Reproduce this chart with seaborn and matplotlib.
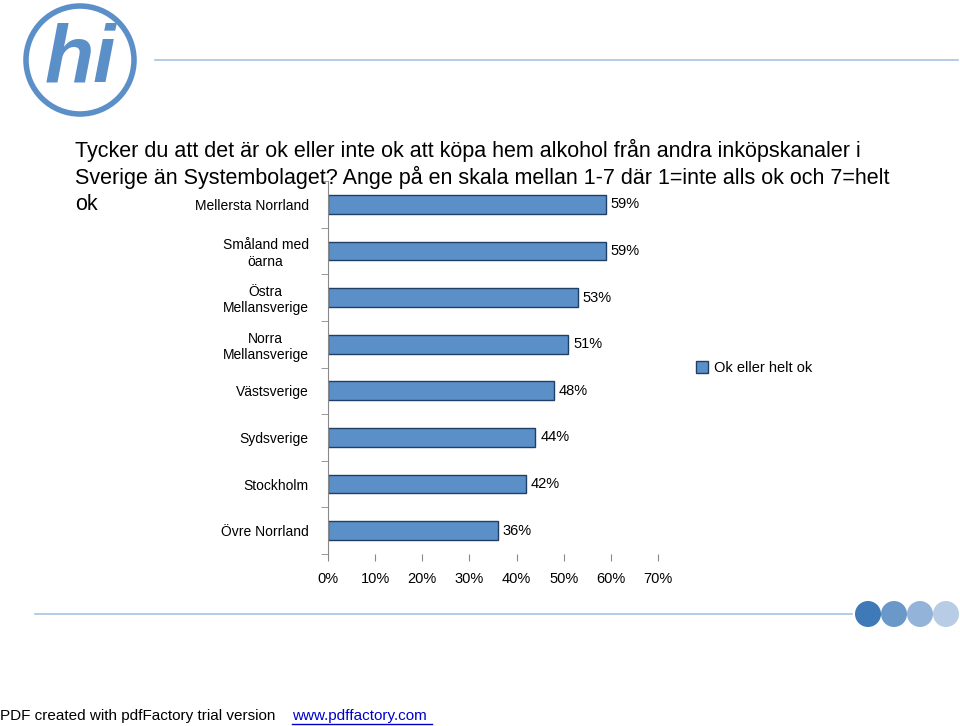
import matplotlib
matplotlib.use("Agg")
import matplotlib.pyplot as plt
import seaborn as sns
import pandas as pd
from matplotlib.patches import Ellipse, Patch

regions = ["Mellersta Norrland", "Småland med\nöarna", "Östra\nMellansverige", "Norra\nMellansverige",
           "Västsverige", "Sydsverige", "Stockholm", "Övre Norrland"]
ok_share = [59, 59, 53, 51, 48, 44, 42, 36]
ticks = [0, 10, 20, 30, 40, 50, 60, 70]

W, H = 960, 726
fig = plt.figure(figsize=(W / 100, H / 100), dpi=100)
plt.rcParams["font.family"] = "Liberation Sans"

def fx(x): return x / W
def fy(y): return 1 - y / H

def circ(cx, cy, r, **kw):
    fig.add_artist(Ellipse((fx(cx), fy(cy)), 2 * r / W, 2 * r / H, transform=fig.transFigure, **kw))

# logo and decoration
circ(80, 60, 54, fill=False, ec="#5b8fc8", lw=4)
fig.text(fx(80), fy(60), "hi", ha="center", va="center", fontsize=58, fontweight="bold",
         style="italic", color="#5b8fc8")
fig.add_artist(plt.Line2D([fx(155), fx(958)], [fy(60), fy(60)], color="#a9c4e0", lw=1.2))
fig.add_artist(plt.Line2D([fx(35), fx(852)], [fy(614), fy(614)], color="#a9c4e0", lw=1.2))
for cx, col in zip([868, 894, 920, 946], ["#3f79b8", "#6a98c9", "#93b4d8", "#b8cde5"]):
    circ(cx, 614, 13, color=col, lw=0)

title_size = 15.5
fig.text(fx(75), fy(150), "Tycker du att det är ok eller inte ok att köpa hem alkohol från andra inköpskanaler i",
         fontsize=title_size, va="center")
fig.text(fx(75), fy(177), "Sverige än Systembolaget? Ange på en skala mellan 1-7 där 1=inte alls ok och 7=helt",
         fontsize=title_size, va="center")
fig.text(fx(75), fy(205), "ok", fontsize=title_size, va="center")

fig.text(fx(0), fy(716), "PDF created with pdfFactory trial version", fontsize=11, va="center", color="#000000")
fig.text(fx(292), fy(716), "www.pdffactory.com", fontsize=11, va="center", color="#0000cc")
fig.add_artist(plt.Line2D([fx(292), fx(432)], [fy(724), fy(724)], color="#0000cc", lw=1))

ax = fig.add_axes([fx(328), fy(554), (658 - 328) / W, (554 - 181) / H])
df = pd.DataFrame({"region": regions, "share": ok_share})
sns.barplot(data=df, x="share", y="region", ax=ax, color="#5b8fc8", edgecolor="#1f3f66",
            linewidth=1, width=0.4, saturation=1)
for i, v in enumerate(ok_share):
    ax.text(v + 1, i, f"{v}%", va="center", fontsize=10.5)
ax.set_xlim(0, 70)
ax.set_ylim(7.5, -0.5)
ax.set_xticks(ticks)
ax.set_xticklabels([f"{t}%" for t in ticks], fontsize=10.5)
ax.set_yticks([i - 0.5 for i in range(9)], minor=True)
ax.tick_params(axis="y", which="major", labelsize=10, length=0, pad=14)
ax.tick_params(axis="y", which="minor", length=5, color="#888888")
for lab in ax.get_yticklabels():
    lab.set_multialignment("center")
ax.tick_params(axis="x", length=5, direction="out", color="#888888", pad=8)
ax.set_xlabel("")
ax.set_ylabel("")
for s in ["top", "right", "bottom"]:
    ax.spines[s].set_visible(False)
ax.spines["left"].set_color("#888888")

fig.legend(handles=[Patch(facecolor="#5b8fc8", edgecolor="#1f3f66", label="Ok eller helt ok")],
           loc="center left", bbox_to_anchor=(fx(683), fy(368)), frameon=False, fontsize=10.5,
           handlelength=0.8, handleheight=0.8, handletextpad=0.4)

fig.savefig("out.png", dpi=100)
